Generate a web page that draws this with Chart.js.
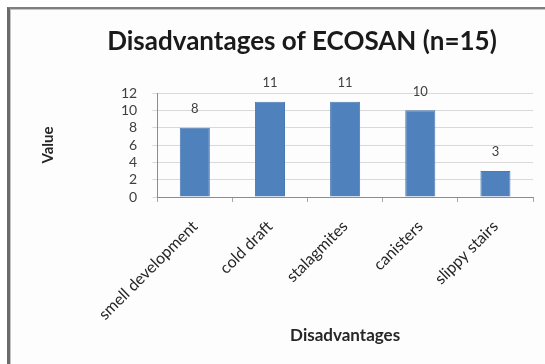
<!DOCTYPE html>
<html>
<head>
<meta charset="utf-8">
<script src="https://cdn.jsdelivr.net/npm/chart.js@4/dist/chart.umd.min.js"></script>
<style>
  html, body { margin: 0; padding: 0; background: #ffffff; }
  #wrap { position: relative; width: 545px; height: 364px; overflow: hidden; background: #ffffff; }
  #frame {
    position: absolute; left: 7px; top: 7px; width: 600px; height: 420px;
    border-left: 3px solid #6b6b6b; border-top: 2px solid #7f7f7f;
    box-shadow: inset 1px 1px 0 #c4c4c4;
    background: #fdfdfd;
  }
  #chart { position: absolute; left: 0; top: 0; }
</style>
</head>
<body>
<div id="wrap">
  <div id="frame"></div>
  <canvas id="chart" width="545" height="364"></canvas>
</div>
<script>
// Survey answers: how many of the 15 respondents named each drawback
const categories = ['smell development', 'cold draft', 'stalagmites', 'canisters', 'slippy stairs'];
const counts = [8, 11, 11, 10, 3];
const yTicks = [0, 2, 4, 6, 8, 10, 12];

const chartTitle = 'Disadvantages of ECOSAN (n=15)';
const FONT = 'Lato, "Open Sans", "Liberation Sans", sans-serif';

// Title drawn at a fixed spot over the whole figure
const titlePlugin = {
  id: 'figureTitle',
  afterDraw(chart) {
    const ctx = chart.ctx;
    ctx.save();
    ctx.font = 'bold 26px ' + FONT;
    ctx.fillStyle = '#1a1a1a';
    ctx.textAlign = 'center';
    ctx.textBaseline = 'middle';
    ctx.fillText(chartTitle, 302, 42);
    ctx.restore();
  }
};

// Count written above each bar
const valueLabels = {
  id: 'valueLabels',
  afterDatasetsDraw(chart) {
    const ctx = chart.ctx;
    const meta = chart.getDatasetMeta(0);
    ctx.save();
    ctx.font = '13px ' + FONT;
    ctx.fillStyle = '#404040';
    ctx.textAlign = 'center';
    ctx.textBaseline = 'middle';
    meta.data.forEach((bar, i) => {
      ctx.fillText(String(counts[i]), bar.x, bar.y - 19);
    });
    ctx.restore();
  }
};

new Chart(document.getElementById('chart'), {
  type: 'bar',
  data: {
    labels: categories,
    datasets: [{
      data: counts,
      backgroundColor: '#4f81bd',
      borderColor: '#4a7ab4',
      borderWidth: 1,
      barPercentage: 0.4,
      categoryPercentage: 1.0
    }]
  },
  options: {
    responsive: false,
    animation: false,
    devicePixelRatio: 1,
    layout: { padding: { top: 93, left: 39, right: 12, bottom: 12 } },
    plugins: {
      legend: { display: false },
      tooltip: { enabled: false },
      title: { display: false }
    },
    scales: {
      x: {
        // room below the plot for the slanted names and the axis title
        afterFit(scale) { scale.height = 155; },
        grid: {
          offset: true,
          drawOnChartArea: false,
          color: '#a6a6a6',
          tickLength: 5
        },
        border: { color: '#8c8c8c' },
        ticks: {
          minRotation: 45,
          maxRotation: 45,
          padding: 15,
          color: '#262626',
          font: { family: FONT, size: 16 }
        },
        title: {
          display: true,
          text: 'Disadvantages',
          color: '#262626',
          font: { family: FONT, size: 17, weight: 'bold' },
          padding: { top: 4, bottom: 6 }
        }
      },
      y: {
        min: 0,
        max: 12,
        afterBuildTicks(scale) { scale.ticks = yTicks.map(v => ({ value: v })); },
        grid: { color: '#d9d9d9', tickLength: 5 },
        border: { color: '#8c8c8c' },
        ticks: {
          autoSkip: false,
          padding: 15,
          color: '#404040',
          font: { family: FONT, size: 14 }
        },
        title: {
          display: true,
          text: 'Value',
          color: '#262626',
          font: { family: FONT, size: 15, weight: 'bold' },
          padding: { top: 0, bottom: 49 }
        }
      }
    }
  },
  plugins: [titlePlugin, valueLabels]
});
</script>
</body>
</html>
